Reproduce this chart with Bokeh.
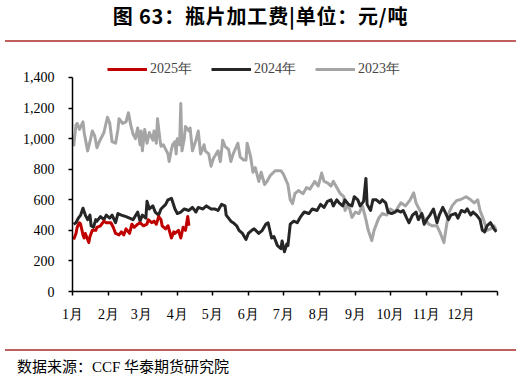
from bokeh.plotting import figure
from bokeh.layouts import column
from bokeh.models import (Div, Legend, LegendItem, FixedTicker, NumeralTickFormatter)
from bokeh.embed import file_html
from bokeh.resources import INLINE

# ---- data (day of year, value) ----
days_2023 = [1, 3, 4, 6, 9, 10, 13, 15, 17, 19, 21, 23, 27, 30, 32, 34, 37, 39, 40, 43, 46, 48, 50, 52, 54,
             56, 58, 59, 60, 62, 64, 66, 69, 70, 72, 73, 75, 76, 78, 80, 82, 83, 85, 86, 88, 89, 90, 92, 93,
             94, 96, 97, 100, 101, 103, 106, 108, 110, 113, 114, 117, 119, 121, 125, 127, 129, 131, 134, 136,
             138, 142, 144, 147, 149, 150, 153, 155, 157, 160, 162, 165, 167, 170, 174, 179, 181, 185, 187,
             189, 191, 194, 198, 201, 204, 208, 211, 214, 216, 219, 222, 224, 227, 230, 233, 234, 237, 240,
             243, 246, 249, 252, 254, 257, 259, 263, 266, 270, 273, 277, 282, 286, 290, 293, 295, 299, 302,
             306, 309, 313, 316, 319, 321, 323, 326, 330, 333, 338, 342, 345, 348, 350, 353, 356, 359, 362, 364]
vals_2023 = [950, 1090, 1100, 1060, 1110, 1040, 920, 980, 1050, 1020, 940, 980, 1040, 1140, 1100, 980, 970,
             1060, 1130, 1100, 1110, 1170, 1090, 1030, 1000, 1070, 960, 1050, 920, 1060, 970, 1040, 990, 1050,
             970, 1130, 1000, 950, 960, 930, 900, 850, 930, 960, 980, 900, 1000, 960, 1230, 920, 1000, 1080,
             1050, 1070, 920, 990, 1050, 900, 960, 920, 900, 820, 870, 920, 850, 990, 950, 930, 850, 900, 970,
             880, 860, 860, 970, 880, 780, 810, 720, 780, 700, 720, 760, 790, 790, 770, 700, 600, 575, 640,
             660, 640, 680, 670, 720, 690, 775, 720, 710, 690, 720, 680, 640, 620, 530, 570, 485, 520, 510,
             560, 470, 400, 333, 400, 480, 510, 500, 540, 520, 580, 560, 600, 645, 580, 520, 480, 440, 430,
             430, 380, 320, 420, 510, 560, 596, 600, 620, 600, 580, 600, 530, 470, 400, 410, 430, 400]

days_2024 = [1, 3, 5, 7, 9, 11, 13, 15, 16, 18, 20, 21, 24, 27, 29, 32, 34, 37, 39, 42, 46, 49, 52, 56, 58,
             60, 63, 64, 66, 69, 71, 74, 76, 80, 82, 85, 88, 90, 93, 96, 100, 103, 106, 108, 112, 115, 119,
             122, 125, 128, 131, 132, 136, 138, 141, 143, 146, 149, 151, 154, 156, 160, 163, 166, 168, 171,
             173, 176, 179, 180, 182, 184, 185, 187, 190, 193, 196, 199, 203, 206, 210, 213, 216, 219, 222,
             224, 227, 229, 232, 234, 237, 240, 242, 245, 247, 250, 252, 253, 256, 258, 261, 264, 266, 269,
             271, 274, 277, 279, 282, 284, 287, 289, 292, 295, 297, 300, 302, 305, 307, 310, 313, 315, 318,
             320, 323, 325, 329, 331, 334, 337, 339, 342, 344, 347, 350, 352, 354, 356, 359, 362, 364]
vals_2024 = [440, 450, 480, 500, 545, 500, 470, 500, 430, 420, 470, 460, 490, 470, 500, 480, 500, 450, 510,
             500, 490, 480, 470, 520, 460, 500, 480, 590, 540, 560, 520, 500, 540, 570, 600, 610, 540, 510,
             520, 540, 530, 550, 520, 550, 540, 560, 540, 540, 530, 570, 560, 500, 460, 450, 430, 400, 380,
             340, 380, 400, 410, 380, 400, 440, 450, 350, 360, 300, 280, 330, 260, 310, 300, 440, 460, 450,
             490, 520, 510, 540, 530, 570, 550, 590, 600, 560, 600, 580, 560, 600, 570, 560, 620, 600, 560,
             590, 740, 570, 530, 600, 600, 580, 600, 580, 520, 510, 520, 530, 520, 530, 480, 450, 500, 520,
             470, 510, 440, 480, 500, 540, 450, 500, 550, 520, 470, 500, 510, 480, 530, 520, 540, 500, 520,
             500, 470, 400, 390, 430, 450, 410, 390]

days_2025 = [1, 3, 4, 6, 7, 9, 10, 11, 14, 15, 17, 20, 21, 24, 27, 29, 33, 35, 37, 40, 42, 44, 46, 49, 51,
             53, 56, 58, 61, 64, 65, 68, 70, 72, 74, 76, 77, 80, 82, 85, 87, 88, 91, 93, 95, 97, 99, 100]
vals_2025 = [340, 380, 420, 450, 440, 370, 350, 380, 320, 360, 400, 400, 420, 430, 460, 450, 450, 420, 380,
             370, 390, 370, 410, 380, 440, 420, 440, 450, 430, 440, 470, 450, 460, 440, 490, 470, 430, 410,
             430, 350, 390, 380, 400, 350, 420, 400, 490, 430]

month_ticks = [0, 31, 59, 90, 120, 151, 181, 212, 243, 273, 304, 334, 365]
month_labels = ["1月", "2月", "3月", "4月", "5月", "6月", "7月", "8月", "9月", "10月", "11月", "12月", ""]
y_ticks = [0, 200, 400, 600, 800, 1000, 1200, 1400]

title_text = "图 63：瓶片加工费|单位：元/吨"
source_text = "数据来源：CCF 华泰期货研究院"
series_names = ["2025年", "2024年", "2023年"]

SERIF = "Liberation Serif"
RULE = "#c0605e"

top = Div(width=521, height=44, margin=0, text=(
    '<div style="position:relative;width:521px;height:44px;">'
    '<div style="position:absolute;left:0;top:4px;width:521px;text-align:center;white-space:pre;'
    "font-family:'Noto Sans CJK SC';font-weight:bold;font-size:20px;letter-spacing:0.8px;"
    'line-height:24px;color:#000;">'
    + title_text + '</div>'
    '<div style="position:absolute;left:5px;top:40px;width:511px;height:2px;background:' + RULE + ';"></div>'
    '</div>'))

bottom = Div(width=521, height=39, margin=0, text=(
    '<div style="position:relative;width:521px;height:39px;">'
    '<div style="position:absolute;left:5px;top:9px;width:511px;height:2px;background:' + RULE + ';"></div>'
    '<div style="position:absolute;left:17px;top:17px;white-space:nowrap;'
    "font-family:'Liberation Serif','Noto Sans CJK SC';font-size:15px;line-height:20px;color:#000;\">"
    + source_text + '</div>'
    '</div>'))

p = figure(width=521, height=296, output_backend="svg", toolbar_location=None,
           x_range=(0, 365), y_range=(0, 1543.9),
           min_border_left=72, min_border_right=24, min_border_top=11, min_border_bottom=49)
p.outline_line_color = None
p.grid.visible = False

r23 = p.line(days_2023, vals_2023, line_color="#a5a5a5", line_width=3, line_join="round")
r24 = p.line(days_2024, vals_2024, line_color="#262626", line_width=3, line_join="round")
r25 = p.line(days_2025, vals_2025, line_color="#c00000", line_width=3, line_join="round")

for ax in (p.xaxis[0], p.yaxis[0]):
    ax.axis_line_color = "black"
    ax.axis_line_width = 1.5
    ax.major_tick_line_color = "black"
    ax.major_tick_line_width = 1.5
    ax.major_tick_in = 0
    ax.major_tick_out = 4
    ax.minor_tick_line_color = None
    ax.major_label_text_font = SERIF
    ax.major_label_text_font_size = "14px"
    ax.major_label_text_color = "black"

p.yaxis.ticker = FixedTicker(ticks=y_ticks)
p.yaxis.formatter = NumeralTickFormatter(format="0,0")
p.yaxis.bounds = (0, 1400)
p.yaxis.major_label_standoff = 14
p.xaxis.ticker = FixedTicker(ticks=month_ticks)
p.xaxis.major_label_overrides = {t: l for t, l in zip(month_ticks, month_labels)}
p.xaxis.major_label_standoff = 11

legend = Legend(items=[LegendItem(label=series_names[0], renderers=[r25]),
                       LegendItem(label=series_names[1], renderers=[r24]),
                       LegendItem(label=series_names[2], renderers=[r23])],
                orientation="horizontal", location=(35, 213), padding=0, margin=0,
                spacing=19, glyph_width=40, glyph_height=16, label_standoff=3,
                label_text_font=SERIF, label_text_font_size="14px",
                label_height=16,
                border_line_color=None, background_fill_alpha=0)
p.add_layout(legend, "center")

layout = column(top, p, bottom, spacing=0)
open("out.html", "w").write(file_html(layout, INLINE))
